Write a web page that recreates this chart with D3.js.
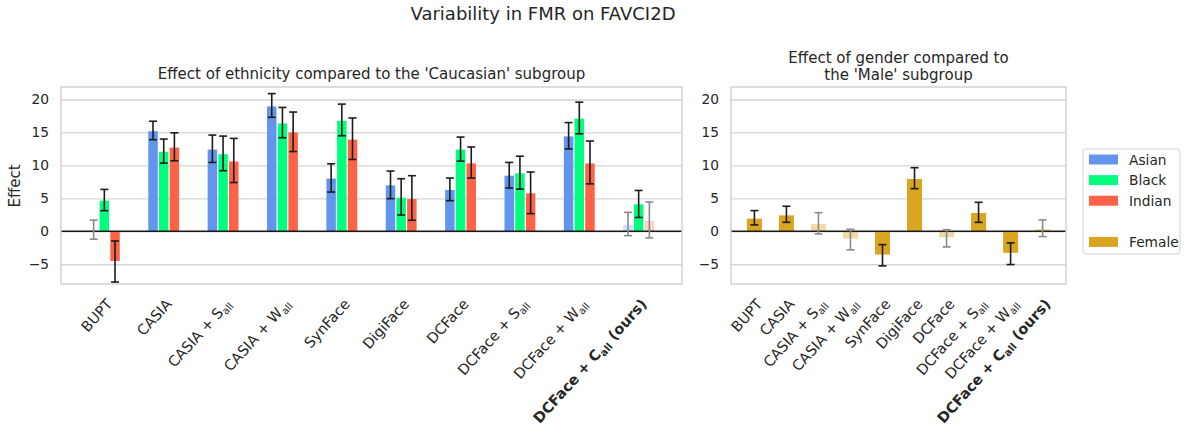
<!DOCTYPE html>
<html><head><meta charset="utf-8">
<script src="https://cdn.jsdelivr.net/npm/d3@7"></script>
<style>
body{margin:0;background:#fff}
text{font-family:"DejaVu Sans",sans-serif;fill:#262626}
</style>
</head><body>
<svg id="chart" width="1187" height="436"></svg>
<script>
// Training sets compared (subscript written after "_")
const categories = ["BUPT","CASIA","CASIA + S_all","CASIA + W_all","SynFace","DigiFace","DCFace","DCFace + S_all","DCFace + W_all","DCFace + C_all (ours)"];
const boldCategory = 9;

// Ethnicity effects relative to Caucasian (mean and 95% interval)
const asian   = [0.15, 15.2, 12.4, 18.95, 8.0, 6.97, 6.27, 8.44, 14.4, 1.0];
const asianLo = [-1.2, 13.9, 10.45, 17.3, 5.96, 4.95, 4.65, 6.57, 12.5, -0.66];
const asianHi = [1.7, 16.7, 14.6, 20.9, 10.25, 9.14, 8.08, 10.45, 16.5, 2.88];
const asianSig = [false, true, true, true, true, true, true, true, true, false];

const black   = [4.65, 12.07, 11.7, 16.36, 16.77, 5.1, 12.4, 8.8, 17.1, 4.1];
const blackLo = [3.13, 10.35, 9.2, 14.2, 14.5, 2.47, 10.65, 6.4, 14.8, 2.1];
const blackHi = [6.36, 14.0, 14.45, 18.8, 19.3, 7.98, 14.3, 11.4, 19.6, 6.2];
const blackSig = [true, true, true, true, true, true, true, true, true, true];

const indian   = [-4.5, 12.7, 10.6, 15.0, 13.9, 4.9, 10.3, 5.76, 10.3, 1.57];
const indianLo = [-7.7, 10.7, 7.4, 12.1, 10.9, 1.67, 8.08, 2.68, 7.2, -1.0];
const indianHi = [-1.47, 14.95, 14.1, 18.1, 17.2, 8.44, 12.8, 9.0, 13.7, 4.45];
const indianSig = [true, true, true, true, true, true, true, true, true, false];

// Gender effect relative to Male
const female   = [1.92, 2.42, 1.12, -1.11, -3.53, 7.94, -0.9, 2.78, -3.27, 0.36];
const femaleLo = [0.97, 1.36, -0.4, -2.82, -5.25, 6.47, -2.37, 1.36, -5.05, -0.8];
const femaleHi = [3.14, 3.8, 2.83, 0.3, -2.02, 9.65, 0.25, 4.4, -1.76, 1.73];
const femaleSig = [true, true, false, false, true, true, false, true, true, false];

const yTicks = [-5, 0, 5, 10, 15, 20];

const colors = {Asian: "#6495ED", Black: "#00FF7F", Indian: "#FF6347", Female: "#DAA520"};

const svg = d3.select("#chart");
const yDomain = [-8, 21.9];
const plotTop = 87, plotBottom = 284;
const y = d3.scaleLinear().domain(yDomain).range([plotBottom, plotTop]);
const fmt = d => d < 0 ? "\u2212" + Math.abs(d) : String(d);

function panel(x0, x1) {
  const x = d3.scaleLinear().domain([-0.73, 9.73]).range([x0, x1]);
  const g = svg.append("g");
  // horizontal grid
  g.append("g").attr("transform", `translate(${x0},0)`)
    .call(d3.axisLeft(y).tickValues(yTicks).tickSize(-(x1 - x0)).tickFormat(""))
    .call(a => a.select(".domain").remove())
    .call(a => a.selectAll("line").attr("stroke", "#d5d5d5").attr("stroke-width", 1.3));
  // y tick labels
  g.append("g").attr("transform", `translate(${x0},0)`)
    .call(d3.axisLeft(y).tickValues(yTicks).tickSize(0).tickPadding(12).tickFormat(fmt))
    .call(a => a.select(".domain").remove())
    .call(a => a.selectAll("text").attr("font-size", 13.75).attr("fill", "#262626")
      .attr("font-family", "DejaVu Sans"));
  // x tick labels, rotated about their top-right corner
  const xa = g.append("g").attr("transform", `translate(0,${plotBottom})`)
    .call(d3.axisBottom(x).tickValues(d3.range(categories.length)).tickSize(0).tickFormat(""));
  xa.select(".domain").remove();
  xa.selectAll(".tick").each(function(i) {
    const t = d3.select(this).append("text")
      .attr("text-anchor", "end")
      .attr("font-size", 14.5)
      .attr("font-family", "DejaVu Sans")
      .attr("fill", "#262626")
      .attr("font-weight", i === boldCategory ? "bold" : "normal")
      .attr("transform", "translate(0,13) rotate(-48)")
      .attr("dy", "0.78em");
    const label = categories[i];
    const m = label.match(/^(.*?)_(\w+)(.*)$/);
    if (m) {
      t.append("tspan").text(m[1]);
      t.append("tspan").attr("font-size", 10.1).attr("dy", 3).text(m[2]);
      if (m[3]) t.append("tspan").attr("dy", -3).text(m[3]);
    } else {
      t.text(label);
    }
  });
  return {g, x};
}

function errorBar(g, cx, lo, hi, sig) {
  const col = sig ? "#1c1c1c" : "#8a8a8a";
  const cap = 4;
  g.append("line").attr("x1", cx).attr("x2", cx).attr("y1", y(lo)).attr("y2", y(hi))
    .attr("stroke", col).attr("stroke-width", 1.6);
  [lo, hi].forEach(v => g.append("line").attr("x1", cx - cap).attr("x2", cx + cap)
    .attr("y1", y(v)).attr("y2", y(v)).attr("stroke", col).attr("stroke-width", 1.6));
}

function frame(g, x0, x1) {
  g.append("rect").attr("x", x0).attr("y", plotTop).attr("width", x1 - x0).attr("height", plotBottom - plotTop)
    .attr("fill", "none").attr("stroke", "#cfcfcf").attr("stroke-width", 1.4);
}

// Left panel: ethnicity
const L = panel(61, 682);
const series = [
  {name: "Asian", v: asian, lo: asianLo, hi: asianHi, sig: asianSig, k: -1},
  {name: "Black", v: black, lo: blackLo, hi: blackHi, sig: blackSig, k: 0},
  {name: "Indian", v: indian, lo: indianLo, hi: indianHi, sig: indianSig, k: 1}
];
const step = 0.18;
const bwL = L.x(step) - L.x(0) - 1.2;
series.forEach(s => {
  s.v.forEach((v, i) => {
    const cx = L.x(i + s.k * step);
    L.g.append("rect").attr("x", cx - bwL / 2).attr("width", bwL)
      .attr("y", y(Math.max(0, v))).attr("height", Math.abs(y(v) - y(0)))
      .attr("fill", colors[s.name]).attr("fill-opacity", s.sig[i] ? 1 : 0.3);
  });
});
L.g.append("line").attr("x1", 61).attr("x2", 682).attr("y1", y(0)).attr("y2", y(0))
  .attr("stroke", "#1a1a1a").attr("stroke-width", 1.5);
series.forEach(s => s.v.forEach((v, i) => errorBar(L.g, L.x(i + s.k * step), s.lo[i], s.hi[i], s.sig[i])));
frame(L.g, 61, 682);

// Right panel: gender
const R = panel(731, 1066);
const bwR = R.x(0.5) - R.x(0) - 1;
female.forEach((v, i) => {
  const cx = R.x(i);
  R.g.append("rect").attr("x", cx - bwR / 2).attr("width", bwR)
    .attr("y", y(Math.max(0, v))).attr("height", Math.abs(y(v) - y(0)))
    .attr("fill", colors.Female).attr("fill-opacity", femaleSig[i] ? 1 : 0.4);
});
R.g.append("line").attr("x1", 731).attr("x2", 1066).attr("y1", y(0)).attr("y2", y(0))
  .attr("stroke", "#1a1a1a").attr("stroke-width", 1.5);
female.forEach((v, i) => errorBar(R.g, R.x(i), femaleLo[i], femaleHi[i], femaleSig[i]));
frame(R.g, 731, 1066);

// Titles
svg.append("text").attr("x", 543).attr("y", 20).attr("text-anchor", "middle")
  .attr("font-size", 18).text("Variability in FMR on FAVCI2D");
svg.append("text").attr("x", 371.5).attr("y", 79).attr("text-anchor", "middle")
  .attr("font-size", 15).text("Effect of ethnicity compared to the 'Caucasian' subgroup");
svg.append("text").attr("x", 898.5).attr("y", 63).attr("text-anchor", "middle")
  .attr("font-size", 15).text("Effect of gender compared to");
svg.append("text").attr("x", 898.5).attr("y", 80).attr("text-anchor", "middle")
  .attr("font-size", 15).text("the 'Male' subgroup");
svg.append("text").attr("transform", "translate(19.5,186) rotate(-90)").attr("text-anchor", "middle")
  .attr("font-size", 15).text("Effect");

// Legend
const legendItems = [
  {label: "Asian", color: colors.Asian},
  {label: "Black", color: colors.Black},
  {label: "Indian", color: colors.Indian},
  {label: "", color: null},
  {label: "Female", color: colors.Female}
];
const lg = svg.append("g").attr("transform", "translate(1083,149)");
lg.append("rect").attr("width", 97).attr("height", 105).attr("rx", 3)
  .attr("fill", "#fff").attr("fill-opacity", 0.8).attr("stroke", "#d0d0d0").attr("stroke-width", 1);
legendItems.forEach((d, i) => {
  const yy = 10.5 + i * 20.6;
  if (d.color) lg.append("rect").attr("x", 6).attr("y", yy - 5).attr("width", 29).attr("height", 10)
    .attr("fill", d.color);
  lg.append("text").attr("x", 46).attr("y", yy + 5).attr("font-size", 13.75).text(d.label);
});
</script>
</body></html>
